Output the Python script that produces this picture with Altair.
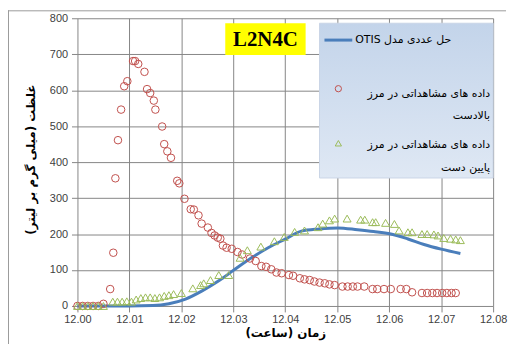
import altair as alt
import pandas as pd

# ---- data ----
x_up = [12.000, 12.001, 12.002, 12.003, 12.004, 12.005, 12.0063, 12.0069, 12.0073,
        12.0078, 12.0084, 12.009, 12.0096, 12.0107, 12.0111, 12.0117, 12.0129,
        12.0134, 12.014, 12.0147, 12.015, 12.0163, 12.0167, 12.0173, 12.018,
        12.0192, 12.0196, 12.0206, 12.0218, 12.0224, 12.0233, 12.0239, 12.0251,
        12.0258, 12.0264, 12.027, 12.0275, 12.028, 12.0287, 12.0297, 12.0308,
        12.0317, 12.0332, 12.0343, 12.0354, 12.0363, 12.0373, 12.0383, 12.0393,
        12.0407, 12.0415, 12.0428, 12.0437, 12.0447, 12.0456, 12.0466, 12.0476,
        12.0485, 12.0495, 12.051, 12.052, 12.053, 12.0539, 12.0552, 12.0568,
        12.0577, 12.059, 12.0603, 12.0622, 12.0633, 12.0644, 12.0663, 12.0673,
        12.0683, 12.0692, 12.0702, 12.0711, 12.072, 12.0728]
y_up = [0, 0, 0, 0, 0, 6, 47, 148, 355,
        461, 546, 611, 625, 681, 681, 673, 651,
        603, 592, 571, 546, 499, 450, 430, 412,
        348, 341, 298, 269, 268, 252, 229, 218,
        203, 196, 190, 187, 168, 162, 159, 150,
        143, 132, 125, 111, 109, 102, 93, 91,
        86, 84, 77, 74, 72, 68, 65, 63,
        60, 58, 54, 54, 54, 54, 54, 47,
        47, 47, 47, 47, 47, 38, 36, 36,
        36, 36, 36, 36, 36, 36]

x_dn = [12.000, 12.001, 12.002, 12.003, 12.004, 12.005,
        12.0068, 12.0077, 12.0086, 12.0095, 12.0104, 12.0113, 12.0122, 12.0131,
        12.014, 12.0149, 12.0158, 12.0167, 12.0176, 12.0185, 12.02,
        12.0222, 12.0237, 12.0243, 12.0256, 12.0272, 12.0291, 12.0313, 12.0327,
        12.0353, 12.0379, 12.0398, 12.0418, 12.0437, 12.0463, 12.0472, 12.0485,
        12.0495, 12.0519, 12.0545, 12.0553, 12.0568, 12.0574, 12.0593, 12.061,
        12.0619, 12.0636, 12.0644, 12.0663, 12.0673, 12.0686, 12.0694, 12.0705,
        12.0718, 12.0728, 12.0737]
y_dn = [0, 0, 0, 0, 0, 0,
        12, 12, 12, 13, 12, 18, 22, 24,
        24, 22, 24, 28, 30, 33, 36,
        49, 58, 63, 72, 86, 86, 134, 155,
        165, 180, 192, 206, 210, 219, 229, 238,
        243, 243, 240, 240, 233, 233, 231, 228,
        210, 205, 205, 200, 200, 199, 196, 189,
        187, 185, 183]

x_otis = [12.000, 12.005, 12.010, 12.0145, 12.0176, 12.0208, 12.024, 12.0272,
          12.0303, 12.0335, 12.0367, 12.040, 12.0431, 12.0465, 12.0501, 12.0539,
          12.057, 12.0603, 12.0635, 12.0667, 12.070, 12.0737]
y_otis = [0, 0, 0, 1, 6, 19, 42, 70,
          102, 134, 162, 186, 208, 214, 217, 212,
          207, 200, 187, 171, 158, 146]

x_ticks = [12.00, 12.01, 12.02, 12.03, 12.04, 12.05, 12.06, 12.07, 12.08]
y_ticks = [0, 100, 200, 300, 400, 500, 600, 700, 800]

RLE, PDF = "\u202b", "\u202c"
x_title = "زمان (ساعت)"
y_title = "غلظت (میلی گرم بر لیتر)"
leg_otis = "حل عددی مدل OTIS"
leg_up = ["داده های مشاهداتی در مرز", "بالادست"]
leg_dn = ["داده های مشاهداتی در مرز", "پایین دست"]
panel_label = "L2N4C"

df_up = pd.DataFrame({"t": x_up, "c": y_up})
df_dn = pd.DataFrame({"t": x_dn, "c": y_dn})
df_otis = pd.DataFrame({"t": x_otis, "c": y_otis})
one = pd.DataFrame({"k": [0]})

RED = "#c0504d"
GREEN = "#9bbb59"
BLUE = "#4a7ebb"
GRID = "#868686"

xs = alt.Scale(domain=[12.00, 12.08], nice=False, zero=False)
ys = alt.Scale(domain=[0, 800], nice=False)

x_axis = alt.Axis(
    values=x_ticks, format=".2f", title=RLE + x_title + PDF,
    grid=True, gridColor=GRID, gridOpacity=1, tickColor=GRID, tickSize=6,
    domain=False, labelFont="Liberation Sans", labelFontSize=11, labelColor="#404040",
    labelPadding=2, labelFlush=False, labelOverlap=False,
    titleFont="DejaVu Sans", titleFontSize=12, titleFontWeight="bold", titleColor="#000",
    titleY=27, titleBaseline="middle")
y_axis = alt.Axis(
    values=y_ticks, title=RLE + y_title + PDF, tickCount=9,
    grid=True, gridColor=GRID, gridOpacity=1, tickColor=GRID, tickSize=6,
    domain=False, labelFont="Liberation Sans", labelFontSize=11, labelColor="#404040",
    labelPadding=4, labelOverlap=False,
    titleFont="DejaVu Sans", titleFontSize=12, titleFontWeight="bold", titleColor="#000",
    titleX=-47, titleY=142, titleBaseline="middle", titleAlign="center")

def xe():
    return alt.X("t:Q", scale=xs, axis=x_axis)

def ye():
    return alt.Y("c:Q", scale=ys, axis=y_axis)

otis = alt.Chart(df_otis).mark_line(color=BLUE, strokeWidth=3, interpolate="monotone").encode(
    x=xe(), y=ye())
up = alt.Chart(df_up).mark_point(shape="circle", filled=False, color=RED, size=58,
                                 strokeWidth=1, opacity=1).encode(x=xe(), y=ye())
dn = alt.Chart(df_dn).mark_point(shape="triangle-up", filled=False, color=GREEN, size=64,
                                 strokeWidth=1, opacity=1).encode(x=xe(), y=ye())

# outer frame
frame_top = alt.Chart(one).mark_rule(color="#9a9a9a", strokeWidth=1).encode(
    x=alt.value(-70), x2=alt.value(432), y=alt.value(-7.5))
frame_left = alt.Chart(one).mark_rule(color="#9a9a9a", strokeWidth=1).encode(
    x=alt.value(-69.5), y=alt.value(-8), y2=alt.value(340))

# legend box
grad = alt.LinearGradient(gradient="linear",
                          stops=[alt.GradientStop(color="#c3d4ea", offset=0),
                                 alt.GradientStop(color="#dfe8f4", offset=1)],
                          x1=0, x2=0, y1=0, y2=1)
leg_box = alt.Chart(one).mark_rect(fill=grad, stroke="#c9d5e6", strokeWidth=1).encode(
    x=alt.value(244), x2=alt.value(419), y=alt.value(5), y2=alt.value(161))
leg_line = alt.Chart(one).mark_rule(color=BLUE, strokeWidth=3).encode(
    x=alt.value(249), x2=alt.value(277), y=alt.value(22))
leg_circ = alt.Chart(one).mark_point(shape="circle", filled=False, color=RED, size=40,
                                     strokeWidth=1, opacity=1).encode(
    x=alt.value(263), y=alt.value(71))
leg_tri = alt.Chart(one).mark_point(shape="triangle-up", filled=False, color=GREEN, size=40,
                                    strokeWidth=1, opacity=1).encode(
    x=alt.value(263), y=alt.value(126))

def ltext(s, x, y, align):
    return alt.Chart(one).mark_text(font="DejaVu Sans", fontSize=11, color="#000",
                                    align=align, baseline="middle").encode(
        x=alt.value(x), y=alt.value(y), text=alt.value(RLE + s + PDF))

leg_texts = [
    ltext(leg_otis, 280, 22, "left"),
    ltext(leg_up[0], 416, 76, "right"),
    ltext(leg_up[1], 416, 99, "right"),
    ltext(leg_dn[0], 416, 128, "right"),
    ltext(leg_dn[1], 416, 151, "right"),
]

# panel label box
lab_box = alt.Chart(one).mark_rect(fill="#ffff00").encode(
    x=alt.value(149), x2=alt.value(230), y=alt.value(5), y2=alt.value(37))
lab_txt = alt.Chart(one).mark_text(font="Liberation Serif", fontSize=21, fontWeight="bold",
                                   color="#000", align="center", baseline="middle").encode(
    x=alt.value(189.5), y=alt.value(22), text=alt.value(panel_label))

chart = alt.layer(
    otis, up, dn, frame_top, frame_left, leg_box, leg_line, leg_circ, leg_tri,
    *leg_texts, lab_box, lab_txt
).properties(
    width=419, height=290,
    autosize=alt.AutoSizeParams(type="none"),
    padding={"left": 70, "top": 9, "right": 16, "bottom": 37},
    background="white",
).configure_view(stroke=None)

chart.save("out.html", embed_options={"renderer": "svg", "actions": False})
